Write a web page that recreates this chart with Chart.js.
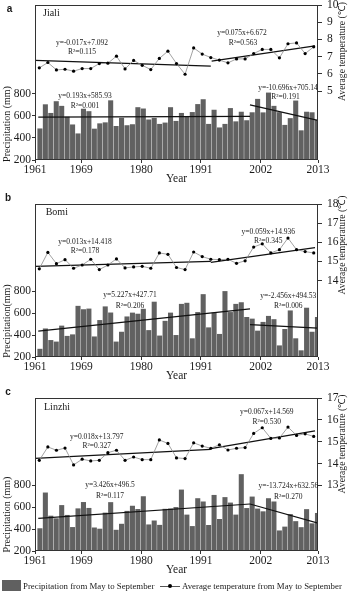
<!DOCTYPE html>
<html>
<head>
<meta charset="utf-8">
<script src="https://cdn.jsdelivr.net/npm/chart.js@4.4.0/dist/chart.umd.min.js"></script>
<style>
  body { margin: 0; background: #fff; }
  #wrap { position: relative; width: 350px; height: 593px; overflow: hidden; }
  canvas { display: block; }
  .lg { position: absolute; font: 8.8px "Liberation Serif", serif; color: #1a1a1a; line-height: 12px; top: 580px; white-space: nowrap; }
</style>
</head>
<body>
<div id="wrap">
  <canvas id="ca" width="350" height="190"></canvas>
  <canvas id="cb" width="350" height="197"></canvas>
  <canvas id="cc" width="350" height="194"></canvas>
  <div style="position:absolute;left:2px;top:580px;width:19px;height:11px;background:#606060"></div>
  <div class="lg" style="left:23px">Precipitation from May to September</div>
  <div style="position:absolute;left:160px;top:586px;width:20px;height:1px;background:#555"></div>
  <div style="position:absolute;left:168px;top:584px;width:4px;height:4px;border-radius:2px;background:#000"></div>
  <div class="lg" style="left:182px">Average temperature from May to September</div>
</div>
<script>
// years on the precipitation axis and on the temperature axis
const precipYears = [1961, 1962, 1963, 1964, 1965, 1966, 1967, 1968, 1969, 1970,
  1971, 1972, 1973, 1974, 1975, 1976, 1977, 1978, 1979, 1980,
  1981, 1982, 1983, 1984, 1985, 1986, 1987, 1988, 1989, 1990,
  1991, 1992, 1993, 1994, 1995, 1996, 1997, 1998, 1999, 2000,
  2001, 2002, 2003, 2004, 2005, 2006, 2007, 2008, 2009, 2010, 2011, 2012];
const tempYears = [1981, 1982, 1983, 1984, 1985, 1986, 1987, 1988, 1989, 1990,
  1991, 1992, 1993, 1994, 1995, 1996, 1997, 1998, 1999, 2000,
  2001, 2002, 2003, 2004, 2005, 2006, 2007, 2008, 2009, 2010, 2011, 2012, 2013];
const xTickYears = [1961, 1969, 1980, 1991, 2002, 2013];
const precipTicks = [200, 400, 600, 800];

// Jiali
const jialiPrecip = [482, 700, 622, 728, 686, 588, 518, 437, 660, 638,
  480, 528, 537, 736, 504, 578, 511, 520, 674, 662,
  563, 577, 523, 535, 674, 550, 622, 593, 630, 702,
  746, 523, 651, 491, 523, 666, 546, 633, 556, 628,
  749, 627, 806, 686, 629, 514, 575, 734, 465, 633, 628, 560];
const jialiTemp = [6.35, 6.66, 6.23, 6.27, 6.16, 6.31, 6.31, 6.6, 6.62, 7.03,
  6.29, 6.78, 6.5, 6.25, 6.9, 7.32, 6.6, 5.98, 7.51, 7.15,
  6.95, 6.8, 6.64, 6.87, 6.87, 7.18, 7.42, 7.42, 6.93, 7.75, 7.8, 7.18, 7.57];
const jialiTempTicks = [5, 6, 7, 8, 9, 10];
const jialiPrecipTrend1 = [[1961.1, 588], [2000.0, 594]];
const jialiPrecipTrend2 = [[2000.0, 698], [2012.5, 558]];
const jialiTempTrend1 = [[1980.5, 6.78], [2001.0, 6.45]];
const jialiTempTrend2 = [[2001.1, 6.74], [2013.15, 7.63]];

// Bomi
const bomiPrecip = [272, 458, 352, 338, 484, 390, 404, 665, 634, 640,
  385, 535, 660, 604, 338, 428, 568, 603, 593, 638,
  443, 703, 393, 528, 603, 398, 683, 693, 368, 608,
  772, 468, 603, 408, 800, 608, 683, 698, 563, 548,
  438, 518, 573, 543, 303, 453, 623, 368, 258, 648, 428, 563];
const bomiTemp = [14.61, 15.47, 14.88, 15.09, 14.64, 14.81, 15.11, 14.57, 14.81, 15.13,
  14.66, 14.71, 14.74, 14.64, 15.44, 15.37, 14.68, 14.57, 15.49, 15.25,
  15.11, 15.09, 15.11, 14.9, 15.03, 15.75, 15.92, 15.44, 15.61, 16.22, 15.61, 15.51, 15.44];
const bomiTempTicks = [14, 15, 16, 17, 18];
const bomiPrecipTrend1 = [[1961.1, 436], [2000.0, 640]];
const bomiPrecipTrend2 = [[2000.0, 497], [2012.5, 465]];
const bomiTempTrend1 = [[1980.5, 14.74], [2001.0, 15.0]];
const bomiTempTrend2 = [[2001.0, 14.95], [2013.15, 15.72]];

// Linzhi
const linzhiPrecip = [405, 732, 520, 496, 617, 527, 416, 587, 645, 591,
  412, 401, 548, 644, 391, 446, 564, 611, 581, 698,
  440, 476, 436, 583, 586, 599, 759, 530, 425, 680,
  650, 435, 710, 490, 690, 640, 530, 900, 590, 695,
  585, 560, 680, 650, 385, 420, 535, 470, 415, 580, 450, 545];
const linzhiTemp = [14.15, 14.76, 14.61, 14.71, 13.94, 14.2, 14.12, 14.15, 14.5, 14.61,
  14.15, 14.3, 14.18, 14.18, 15.08, 14.92, 14.26, 14.23, 14.95, 14.8,
  14.7, 14.86, 14.62, 14.7, 14.73, 15.38, 15.64, 15.15, 15.17, 15.67, 15.29, 15.36, 15.24];
const linzhiTempTicks = [13, 14, 15, 16, 17];
const linzhiPrecipTrend1 = [[1961.1, 498], [2000.0, 630]];
const linzhiPrecipTrend2 = [[2000.0, 630], [2012.5, 455]];
const linzhiTempTrend1 = [[1980.5, 14.24], [2001.0, 14.65]];
const linzhiTempTrend2 = [[2001.0, 14.68], [2013.15, 15.5]];

const SERIF = '"Liberation Serif", "Times New Roman", serif';
const INK = '#1a1a1a';
const EQ = '7.5px ' + SERIF;

const panelText = {
  id: 'panelText',
  afterDraw(chart, args, opts) {
    const ctx = chart.ctx;
    const a = chart.chartArea;
    ctx.save();
    ctx.strokeStyle = '#333';
    ctx.lineWidth = 1;
    ctx.strokeRect(a.left + 0.5, a.top + 0.5, a.right - a.left - 1, a.bottom - a.top - 1);
    opts.items.forEach(t => {
      ctx.save();
      ctx.font = t.font;
      ctx.fillStyle = INK;
      ctx.textAlign = t.align || 'center';
      ctx.textBaseline = 'middle';
      ctx.translate(t.x, t.y);
      if (t.rot) ctx.rotate(-Math.PI / 2);
      ctx.fillText(t.text, 0, 0);
      ctx.restore();
    });
    ctx.restore();
  }
};

const pts = pairs => pairs.map(p => ({ x: p[0], y: p[1] }));

function trend(pairs, xId, yId) {
  return {
    type: 'line', data: pts(pairs), xAxisID: xId, yAxisID: yId,
    borderColor: '#111', borderWidth: 1.2, pointRadius: 0, order: 1
  };
}

function makePanel(id, p) {
  const tickFont = { family: SERIF, size: 11.5 };
  return new Chart(document.getElementById(id), {
    type: 'bar',
    data: {
      datasets: [
        {
          type: 'line', label: 'Average temperature from May to September',
          data: tempYears.map((y, i) => ({ x: y, y: p.temp[i] })),
          xAxisID: 'xt', yAxisID: 'yt', order: 0,
          borderColor: '#8a8a8a', borderWidth: 0.8,
          pointRadius: 1.6, pointBackgroundColor: '#000', pointBorderWidth: 0
        },
        trend(p.tempTrends[0], 'xt', 'yt'),
        trend(p.tempTrends[1], 'xt', 'yt'),
        trend(p.precipTrends[0], 'x', 'y'),
        trend(p.precipTrends[1], 'x', 'y'),
        {
          type: 'bar', label: 'Precipitation from May to September',
          data: precipYears.map((y, i) => ({ x: y, y: p.precip[i] })),
          xAxisID: 'x', yAxisID: 'y', order: 2,
          backgroundColor: '#616161', barThickness: 4.4
        }
      ]
    },
    options: {
      responsive: false,
      animation: false,
      layout: { padding: { top: p.top, left: 0, right: 0, bottom: 0 } },
      scales: {
        x: {
          type: 'linear', min: 1960.5, max: 2012.5, offset: false,
          afterBuildTicks: s => {
            const last = xTickYears.length - 1;
            s.ticks = xTickYears.map((y, i) => ({ value: i === 0 ? s.min : (i === last ? s.max : y) }));
          },
          afterFit: s => { s.height = 30; s.paddingLeft = 0; s.paddingRight = 0; },
          ticks: { autoSkip: false, maxRotation: 0, padding: 0, color: INK, font: tickFont,
            callback: (v, i) => String(xTickYears[i]) },
          grid: { offset: false, drawOnChartArea: false, tickLength: 3, color: '#333' },
          border: { display: false },
          title: { display: true, text: 'Year', color: INK, font: tickFont, padding: { top: 0, bottom: 4 } }
        },
        xt: { type: 'linear', min: 1980.5, max: 2013.5, offset: false, grid: { offset: false }, display: false },
        y: {
          position: 'left', min: 200, max: 1600,
          afterBuildTicks: s => { s.ticks = precipTicks.map(v => ({ value: v })); },
          afterFit: s => { s.width = 35; s.paddingTop = 0; s.paddingBottom = 0; },
          ticks: { padding: 1, color: INK, font: tickFont },
          grid: { drawOnChartArea: false, tickLength: 3, color: '#333' },
          border: { display: false }
        },
        yt: {
          position: 'right', min: p.tMin, max: p.tMax,
          afterBuildTicks: s => { s.ticks = p.tTicks.map(v => ({ value: v })); },
          afterFit: s => { s.width = 32; s.paddingTop = 0; s.paddingBottom = 0; },
          ticks: { padding: 5, color: INK, font: tickFont },
          grid: { drawOnChartArea: false, tickLength: 4, color: '#333' },
          border: { display: false }
        }
      },
      plugins: {
        legend: { display: false },
        tooltip: { enabled: false },
        panelText: { items: p.texts }
      }
    },
    plugins: [panelText]
  });
}

makePanel('ca', {
  top: 5, precip: jialiPrecip, temp: jialiTemp, tMin: 1, tMax: 10, tTicks: jialiTempTicks,
  precipTrends: [jialiPrecipTrend1, jialiPrecipTrend2], tempTrends: [jialiTempTrend1, jialiTempTrend2],
  texts: [
    { text: 'a', x: 9.5, y: 9, font: 'bold 10px "Liberation Sans", Arial, sans-serif' },
    { text: 'Jiali', x: 43, y: 13.5, align: 'left', font: '10px ' + SERIF },
    { text: 'y=-0.017x+7.092', x: 82, y: 42.7, font: EQ },
    { text: 'R²=0.115', x: 82, y: 52.3, font: EQ },
    { text: 'y=0.075x+6.672', x: 242, y: 33.3, font: EQ },
    { text: 'R²=0.563', x: 243, y: 43.3, font: EQ },
    { text: 'y=0.193x+585.93', x: 85, y: 96, font: EQ },
    { text: 'R²=0.001', x: 85, y: 105.7, font: EQ },
    { text: 'y=-10.696x+705.14', x: 288, y: 88.3, font: EQ },
    { text: 'R²=0.191', x: 285.5, y: 97, font: EQ },
    { text: 'Precipitation (mm)', x: 7, y: 124, rot: true, font: '10px ' + SERIF },
    { text: 'Average temperature (℃)', x: 342, y: 51.5, rot: true, font: '9.6px ' + SERIF }
  ]
});

makePanel('cb', {
  top: 14, precip: bomiPrecip, temp: bomiTemp, tMin: 10, tMax: 18, tTicks: bomiTempTicks,
  precipTrends: [bomiPrecipTrend1, bomiPrecipTrend2], tempTrends: [bomiTempTrend1, bomiTempTrend2],
  texts: [
    { text: 'b', x: 8, y: 8.5, font: 'bold 10px "Liberation Sans", Arial, sans-serif' },
    { text: 'Bomi', x: 45.7, y: 22.5, align: 'left', font: '10px ' + SERIF },
    { text: 'y=0.013x+14.418', x: 85, y: 51.7, font: EQ },
    { text: 'R²=0.178', x: 85, y: 61, font: EQ },
    { text: 'y=0.059x+14.936', x: 268.3, y: 41.7, font: EQ },
    { text: 'R²=0.345', x: 268.3, y: 50.7, font: EQ },
    { text: 'y=5.227x+427.71', x: 130, y: 105, font: EQ },
    { text: 'R²=0.206', x: 130, y: 115.7, font: EQ },
    { text: 'y=-2.456x+494.53', x: 288.3, y: 106, font: EQ },
    { text: 'R²=0.006', x: 288.3, y: 116, font: EQ },
    { text: 'Precipitation(mm)', x: 7, y: 131, rot: true, font: '10px ' + SERIF },
    { text: 'Average temperature (℃)', x: 342, y: 55, rot: true, font: '9.6px ' + SERIF }
  ]
});

makePanel('cc', {
  top: 11, precip: linzhiPrecip, temp: linzhiTemp, tMin: 10, tMax: 17, tTicks: linzhiTempTicks,
  precipTrends: [linzhiPrecipTrend1, linzhiPrecipTrend2], tempTrends: [linzhiTempTrend1, linzhiTempTrend2],
  texts: [
    { text: 'c', x: 8, y: 5.5, font: 'bold 10px "Liberation Sans", Arial, sans-serif' },
    { text: 'Linzhi', x: 44, y: 20.5, align: 'left', font: '10px ' + SERIF },
    { text: 'y=0.018x+13.797', x: 96.7, y: 49.7, font: EQ },
    { text: 'R²=0.327', x: 96.7, y: 59, font: EQ },
    { text: 'y=0.067x+14.569', x: 266.7, y: 24.7, font: EQ },
    { text: 'R²=0.530', x: 266.7, y: 34.7, font: EQ },
    { text: 'y=3.426x+496.5', x: 110, y: 98, font: EQ },
    { text: 'R²=0.117', x: 110, y: 109, font: EQ },
    { text: 'y=-13.724x+632.56', x: 288.3, y: 99, font: EQ },
    { text: 'R²=0.270', x: 288.3, y: 109.7, font: EQ },
    { text: 'Precipitation (mm)', x: 7, y: 127.5, rot: true, font: '10px ' + SERIF },
    { text: 'Average temperature (℃)', x: 342, y: 57, rot: true, font: '9.6px ' + SERIF }
  ]
});
</script>
</body>
</html>
